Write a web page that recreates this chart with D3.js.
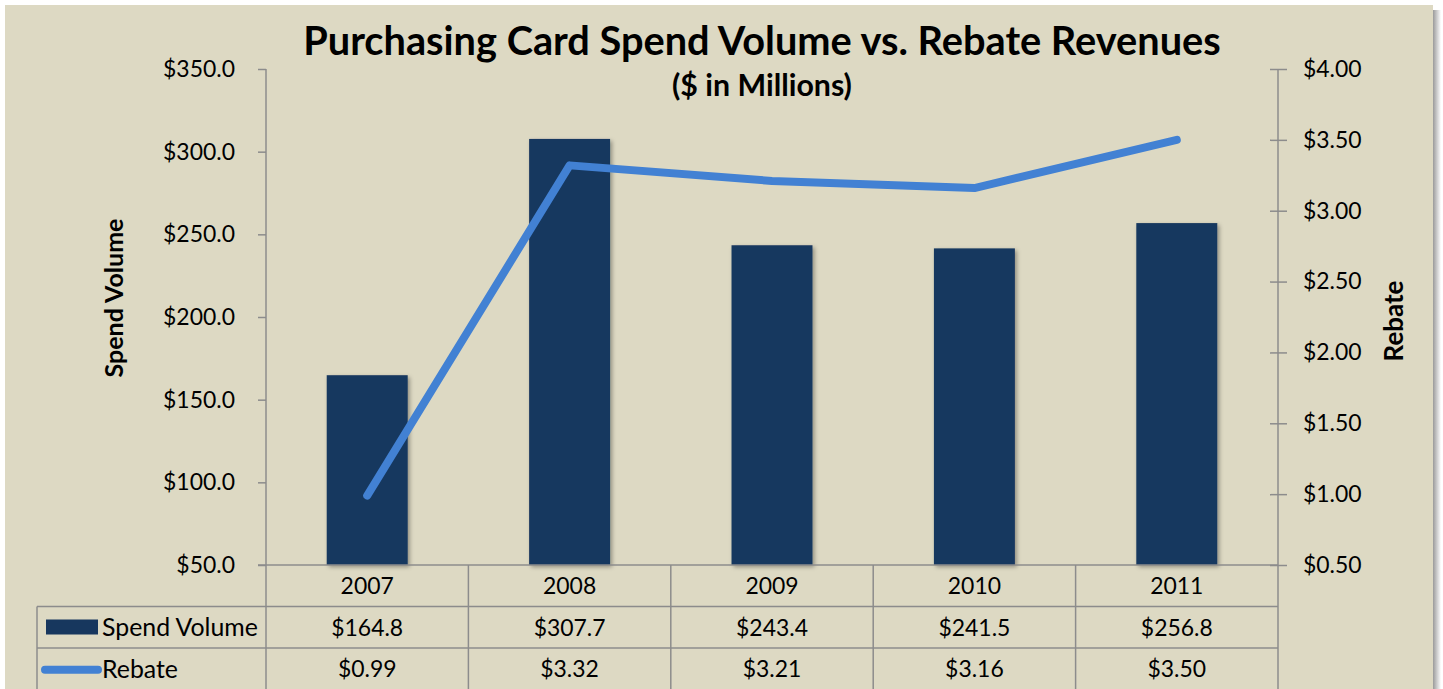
<!DOCTYPE html>
<html>
<head>
<meta charset="utf-8">
<script src="https://cdn.jsdelivr.net/npm/d3@7"></script>
<style>
  body { margin: 0; background: #fff; }
  text { font-family: Lato, "Open Sans", sans-serif; fill: #000; }
</style>
</head>
<body>
<div id="chart"></div>
<script>
// chart data
var years = ['2007', '2008', '2009', '2010', '2011'];
var spendVolume = [164.8, 307.7, 243.4, 241.5, 256.8];
var rebate = [0.99, 3.32, 3.21, 3.16, 3.50];
var spendLabels = ['$164.8', '$307.7', '$243.4', '$241.5', '$256.8'];
var rebateLabels = ['$0.99', '$3.32', '$3.21', '$3.16', '$3.50'];
var leftTicks = [50, 100, 150, 200, 250, 300, 350];
var rightTicks = [0.5, 1, 1.5, 2, 2.5, 3, 3.5, 4];

var W = 1443, H = 689;
var plot = {left: 266, right: 1278, top: 69, bottom: 565};
var rowH = 41.5;
var tableLeft = 37;
var barColor = '#17375E', lineColor = '#4281D3', axisColor = '#8C8C8C';

var svg = d3.select('#chart').append('svg')
    .attr('width', W)
    .attr('height', H);

// font size that makes a string as wide as in the original (Calibri there, Lato here)
function fitSize(str, weight, target) {
    var t = svg.append('text').attr('font-size', 20).attr('font-weight', weight).text(str);
    var w = t.node().getComputedTextLength();
    t.remove();
    return 20 * target / w;
}
var numSize = fitSize('$350.0', 'normal', 72);
var legSize = fitSize('Spend Volume', 'normal', 156);

var defs = svg.append('defs');
var shadow = defs.append('filter').attr('id', 'barShadow')
    .attr('x', '-10%').attr('y', '-10%').attr('width', '130%').attr('height', '130%');
shadow.append('feDropShadow')
    .attr('dx', 2).attr('dy', 2).attr('stdDeviation', 2)
    .attr('flood-color', '#000').attr('flood-opacity', 0.35);

var grad = defs.append('linearGradient').attr('id', 'edgeShadow');
grad.append('stop').attr('offset', '0%').attr('stop-color', '#9a9a9a');
grad.append('stop').attr('offset', '100%').attr('stop-color', '#fff');

// background panel with its shadow on the right
svg.append('rect')
    .attr('x', 1433).attr('y', 10).attr('width', 8).attr('height', H)
    .attr('fill', 'url(#edgeShadow)');
svg.append('rect')
    .attr('x', 5).attr('y', 5).attr('width', 1428).attr('height', H)
    .attr('fill', '#DDD9C3');

// scales
var x = d3.scaleBand()
    .domain(years)
    .range([plot.left, plot.right])
    .paddingInner(0)
    .paddingOuter(0);

var yLeft = d3.scaleLinear().domain([50, 350]).range([plot.bottom, plot.top]);
var yRight = d3.scaleLinear().domain([0.5, 4]).range([plot.bottom, plot.top]);

var barW = x.bandwidth() * 0.4;

// bars
svg.append('g').selectAll('rect')
    .data(spendVolume)
    .enter().append('rect')
    .attr('x', function (d, i) { return x(years[i]) + (x.bandwidth() - barW) / 2; })
    .attr('y', function (d) { return yLeft(d); })
    .attr('width', barW)
    .attr('height', function (d) { return yLeft(50) - yLeft(d); })
    .attr('fill', barColor)
    .attr('filter', 'url(#barShadow)');

// left axis
var leftAxis = svg.append('g')
    .attr('transform', 'translate(' + plot.left + ',0)')
    .call(d3.axisLeft(yLeft).tickValues(leftTicks).tickSize(8).tickPadding(23)
        .tickFormat(function (d) { return '$' + d3.format('.1f')(d); }));
leftAxis.select('.domain').attr('stroke', axisColor).attr('stroke-width', 1.5).attr('d', 'M0,' + plot.top + 'V' + plot.bottom);
leftAxis.selectAll('.tick line').attr('stroke', axisColor).attr('stroke-width', 1.5);
leftAxis.selectAll('.tick text').attr('font-size', numSize).attr('font-family', 'Lato').attr('fill', '#000');

// right axis, ticks crossing the line
var rightAxis = svg.append('g')
    .attr('transform', 'translate(' + plot.right + ',0)')
    .call(d3.axisRight(yRight).tickValues(rightTicks).tickSize(9).tickPadding(16)
        .tickFormat(function (d) { return '$' + d3.format('.2f')(d); }));
rightAxis.select('.domain').attr('stroke', axisColor).attr('stroke-width', 1.5).attr('d', 'M0,' + plot.top + 'V' + plot.bottom);
rightAxis.selectAll('.tick line').attr('stroke', axisColor).attr('stroke-width', 1.5).attr('x1', -8);
rightAxis.selectAll('.tick text').attr('font-size', numSize).attr('font-family', 'Lato').attr('fill', '#000');

// rebate line
var line = d3.line()
    .x(function (d, i) { return x(years[i]) + x.bandwidth() / 2; })
    .y(function (d) { return yRight(d); });

svg.append('path')
    .datum(rebate)
    .attr('d', line)
    .attr('fill', 'none')
    .attr('stroke', lineColor)
    .attr('stroke-width', 8)
    .attr('stroke-linecap', 'round')
    .attr('stroke-linejoin', 'round');

// data table
var grid = svg.append('g').attr('stroke', axisColor).attr('stroke-width', 1.5);
// baseline of the plot extends a bit to the left
grid.append('line').attr('x1', plot.left - 8).attr('x2', plot.right).attr('y1', plot.bottom).attr('y2', plot.bottom);
[1, 2].forEach(function (r) {
    grid.append('line')
        .attr('x1', tableLeft).attr('x2', plot.right)
        .attr('y1', plot.bottom + r * rowH).attr('y2', plot.bottom + r * rowH);
});
x.domain().forEach(function (d) {
    grid.append('line')
        .attr('x1', x(d)).attr('x2', x(d))
        .attr('y1', plot.bottom).attr('y2', H);
});
grid.append('line').attr('x1', plot.right).attr('x2', plot.right).attr('y1', plot.bottom).attr('y2', H);
grid.append('line').attr('x1', tableLeft).attr('x2', tableLeft).attr('y1', plot.bottom + rowH).attr('y2', H);

var rows = [years, spendLabels, rebateLabels];
rows.forEach(function (vals, r) {
    svg.append('g').selectAll('text')
        .data(vals)
        .enter().append('text')
        .attr('x', function (d, i) { return x(years[i]) + x.bandwidth() / 2; })
        .attr('y', plot.bottom + r * rowH + rowH / 2)
        .attr('dy', '0.36em')
        .attr('text-anchor', 'middle')
        .attr('font-size', numSize)
        .text(function (d) { return d; });
});

// legend keys in table
svg.append('rect')
    .attr('x', 46).attr('y', plot.bottom + rowH + 13)
    .attr('width', 52).attr('height', 15)
    .attr('fill', barColor);
svg.append('text')
    .attr('x', 102).attr('y', plot.bottom + rowH * 1.5).attr('dy', '0.36em')
    .attr('font-size', legSize).text('Spend Volume');
svg.append('line')
    .attr('x1', 45).attr('x2', 98)
    .attr('y1', plot.bottom + rowH * 2.5 + 1).attr('y2', plot.bottom + rowH * 2.5 + 1)
    .attr('stroke', lineColor).attr('stroke-width', 8).attr('stroke-linecap', 'round');
svg.append('text')
    .attr('x', 102).attr('y', plot.bottom + rowH * 2.5).attr('dy', '0.36em')
    .attr('font-size', legSize).text('Rebate');

// titles
svg.append('text')
    .attr('x', 762).attr('y', 55)
    .attr('text-anchor', 'middle')
    .attr('font-weight', 'bold')
    .attr('font-size', fitSize('Purchasing Card Spend Volume vs. Rebate Revenues', 'bold', 918))
    .text('Purchasing Card Spend Volume vs. Rebate Revenues');

svg.append('text')
    .attr('x', 762).attr('y', 96)
    .attr('text-anchor', 'middle')
    .attr('font-weight', 'bold')
    .attr('font-size', fitSize('($ in Millions)', 'bold', 180))
    .text('($ in Millions)');

svg.append('text')
    .attr('transform', 'translate(123,298) rotate(-90)')
    .attr('text-anchor', 'middle')
    .attr('font-weight', 'bold')
    .attr('font-size', fitSize('Spend Volume', 'bold', 159))
    .text('Spend Volume');

svg.append('text')
    .attr('transform', 'translate(1403,321) rotate(-90)')
    .attr('text-anchor', 'middle')
    .attr('font-weight', 'bold')
    .attr('font-size', fitSize('Rebate', 'bold', 81))
    .text('Rebate');
</script>
</body>
</html>
